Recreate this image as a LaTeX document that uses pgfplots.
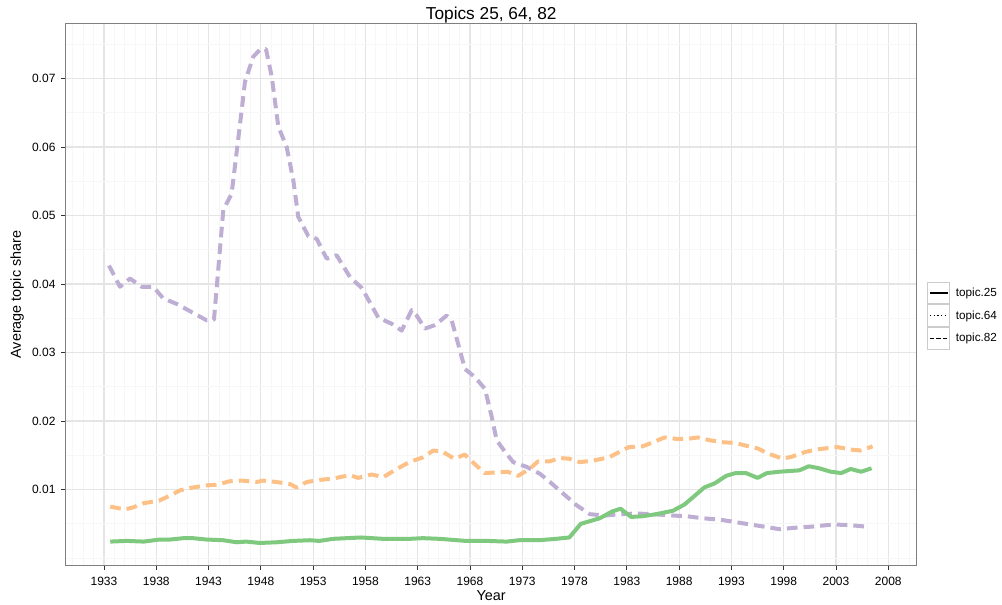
\documentclass[border=0pt]{standalone}
\usepackage{fontspec}
\setmainfont{Liberation Sans}
\usepackage{pgfplots}
\pgfplotsset{compat=1.18}
\definecolor{c25}{HTML}{7FC97F}
\definecolor{c64}{HTML}{BEAED4}
\definecolor{c82}{HTML}{FDC086}
\definecolor{gmaj}{HTML}{E5E5E5}
\definecolor{gmin}{HTML}{F7F7F7}
\definecolor{gborder}{HTML}{7F7F7F}
\definecolor{gkey}{HTML}{CCCCCC}

% topic.25 (green, solid)
\pgfplotstableread{
year share
1933.6 0.0024
1935.2 0.0025
1936.8 0.0024
1938.3 0.0027
1939.3 0.0027
1940.6 0.0029
1941.5 0.0029
1942.8 0.0027
1944.4 0.0026
1945.7 0.0023
1946.6 0.0024
1947.9 0.0022
1949.5 0.0023
1951.1 0.0025
1952.7 0.0026
1953.6 0.0025
1954.9 0.0028
1956.2 0.0029
1957.6 0.0030
1959.7 0.0028
1962.2 0.0028
1963.5 0.0029
1965.1 0.0028
1967.6 0.0025
1969.6 0.0025
1971.5 0.0024
1972.7 0.0026
1974.6 0.0026
1976.2 0.0028
1977.5 0.0030
1978.6 0.0050
1980.4 0.0058
1981.6 0.0068
1982.4 0.0072
1983.4 0.0060
1984.5 0.0061
1985.8 0.0064
1987.4 0.0069
1988.5 0.0078
1989.5 0.0091
1990.4 0.0103
1991.4 0.0109
1992.5 0.0120
1993.4 0.0124
1994.4 0.0124
1995.5 0.0117
1996.4 0.0124
1997.6 0.0126
1999.5 0.0128
2000.4 0.0134
2001.4 0.0131
2002.5 0.0126
2003.5 0.0124
2004.4 0.0130
2005.4 0.0126
2006.4 0.0131
}\topictwentyfive

% purple, dashed
\pgfplotstableread{
year share
1933.48 0.0427
1934.53 0.0396
1935.49 0.0408
1936.61 0.0396
1937.71 0.0396
1938.67 0.0379
1939.95 0.0371
1941.39 0.0359
1942.82 0.0347
1943.52 0.0348
1944.41 0.0508
1945.21 0.0532
1946.17 0.0654
1946.48 0.0695
1947.28 0.0732
1947.92 0.0742
1948.49 0.0743
1949.04 0.0703
1949.67 0.0630
1950.47 0.0600
1951.10 0.0552
1951.58 0.0498
1952.54 0.0470
1953.34 0.0466
1954.30 0.0437
1955.25 0.0442
1956.53 0.0410
1957.67 0.0394
1959.23 0.0351
1960.51 0.0342
1961.47 0.0332
1962.43 0.0362
1962.90 0.0354
1963.70 0.0335
1964.65 0.0340
1965.77 0.0354
1966.25 0.0347
1967.04 0.0303
1967.52 0.0276
1968.48 0.0264
1969.43 0.0247
1970.08 0.0206
1970.55 0.0172
1971.35 0.0155
1972.14 0.0140
1973.42 0.0133
1974.69 0.0123
1975.65 0.0111
1976.92 0.0094
1978.20 0.0077
1979.47 0.0064
1980.91 0.0062
1982.34 0.0064
1983.94 0.0065
1985.53 0.0064
1987.44 0.0062
1988.72 0.0061
1990.31 0.0058
1991.91 0.0056
1993.18 0.0053
1994.78 0.0049
1996.05 0.0046
1997.65 0.0042
1998.92 0.0044
2000.83 0.0046
2002.74 0.0049
2004.34 0.0048
2005.77 0.0046
}\topicpurple

% orange, dashed
\pgfplotstableread{
year share
1933.6 0.0075
1935.0 0.0071
1935.8 0.0074
1936.8 0.0080
1938.3 0.0084
1939.3 0.0091
1940.3 0.0099
1941.5 0.0103
1942.8 0.0106
1943.8 0.0107
1945.0 0.0112
1946.2 0.0113
1947.6 0.0111
1948.2 0.0113
1949.5 0.0111
1950.8 0.0108
1951.4 0.0103
1952.4 0.0111
1953.6 0.0114
1954.9 0.0116
1956.5 0.0121
1957.3 0.0117
1958.6 0.0122
1959.7 0.0118
1961.0 0.0130
1962.2 0.0140
1963.5 0.0147
1964.5 0.0157
1965.4 0.0155
1966.5 0.0145
1967.5 0.0151
1968.4 0.0138
1969.4 0.0124
1970.5 0.0125
1971.6 0.0126
1972.6 0.0120
1973.7 0.0130
1974.5 0.0141
1975.6 0.0141
1976.6 0.0146
1977.5 0.0145
1978.5 0.0140
1979.7 0.0142
1981.3 0.0147
1982.3 0.0155
1983.2 0.0162
1984.5 0.0163
1985.5 0.0169
1986.6 0.0176
1987.7 0.0174
1988.8 0.0174
1989.8 0.0176
1990.9 0.0172
1992.2 0.0169
1993.4 0.0168
1994.4 0.0164
1995.5 0.0160
1996.6 0.0152
1997.9 0.0145
1998.8 0.0148
2000.1 0.0155
2001.4 0.0159
2003.1 0.0162
2004.6 0.0158
2005.4 0.0157
2006.5 0.0163
}\topicorange

\begin{document}
\begin{tikzpicture}
\path[use as bounding box] (0pt,0pt) rectangle (751.5pt,453pt);
\begin{axis}[
    at={(49.275pt,28.725pt)}, anchor=south west,
    scale only axis,
    width=638.25pt, height=406.8pt,
    xmin=1929.34, xmax=2010.72,
    ymin=-0.00112, ymax=0.07806,
    scaled y ticks=false,
    xtick={1933,1938,1943,1948,1953,1958,1963,1968,1973,1978,1983,1988,1993,1998,2003,2008},
    xticklabels={1933,1938,1943,1948,1953,1958,1963,1968,1973,1978,1983,1988,1993,1998,2003,2008},
    ytick={0.01,0.02,0.03,0.04,0.05,0.06,0.07},
    yticklabels={0.01,0.02,0.03,0.04,0.05,0.06,0.07},
    minor xtick={1930,1931,...,2010},
    minor ytick={0,0.005,0.015,0.025,0.035,0.045,0.055,0.065,0.075},
    xtick pos=bottom, ytick pos=left,
    grid=both,
    major grid style={draw=gmaj, line width=0.8pt},
    minor grid style={draw=gmin, line width=0.6pt},
    axis line style={draw=gborder, line width=0.8pt},
    tick align=outside,
    major tick length=3.2pt,
    minor tick length=0pt,
    major tick style={draw=black!80, line width=0.6pt},
    /pgf/number format/assume math mode=true,
    tick label style={font=\fontsize{9}{10}\selectfont, text=black},
    xticklabel style={anchor=base, yshift=-11.9pt},
    yticklabel style={anchor=east, inner sep=0pt, xshift=-4.3pt},
    title={Topics 25, 64, 82},
    title style={at={(axis description cs:0.5,1)}, anchor=base, yshift=-3pt, font=\fontsize{12.96}{15}\selectfont},
    xlabel={Year},
    xlabel style={at={(axis description cs:0.5,0)}, anchor=base, yshift=-26.1pt, font=\fontsize{10.8}{12}\selectfont},
    ylabel={Average topic share},
    ylabel style={at={(axis description cs:0,0.5)}, anchor=center, yshift=36.5pt, font=\fontsize{10.8}{12}\selectfont},
    legend style={at={(axis description cs:1,0.5236)}, anchor=north west, xshift=8pt,
        draw=none, fill=none, inner sep=0pt, outer sep=0pt, row sep=0pt, column sep=4.3pt,
        font=\fontsize{8.8}{10}\selectfont, nodes={inner sep=0pt}},
    legend cell align=left,
    legend image code/.code={
        \draw[draw=gkey, line width=0.75pt, solid, fill=white] (0pt,-8.15pt) rectangle (16.3pt,8.15pt);
        \draw[#1] (1.5pt,0pt) -- (14.8pt,0pt);
    },
]
\addplot[c64, line width=3pt, line join=round, dash pattern=on 8pt off 4.5pt, forget plot] table[x=year, y=share] {\topicpurple};
\addplot[c82, line width=3pt, line join=round, dash pattern=on 8pt off 4.5pt, forget plot] table[x=year, y=share] {\topicorange};
\addplot[c25, line width=3pt, line join=round, forget plot] table[x=year, y=share] {\topictwentyfive};
\addlegendimage{black, line width=0.9pt, solid}
\addlegendentry{topic.25}
\addlegendimage{black, line width=0.8pt, dash pattern=on 1pt off 1.8pt}
\addlegendentry{topic.64}
\addlegendimage{black, line width=0.9pt, dash pattern=on 3.2pt off 1.6pt}
\addlegendentry{topic.82}
\end{axis}
\end{tikzpicture}
\end{document}
